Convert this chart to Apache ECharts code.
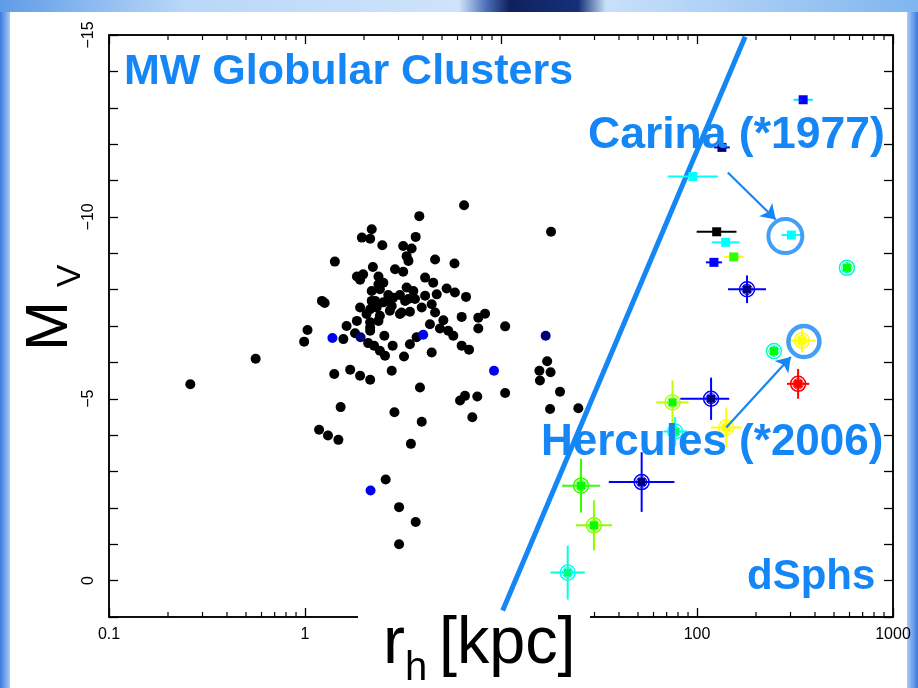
<!DOCTYPE html>
<html>
<head>
<meta charset="utf-8">
<script src="https://cdn.jsdelivr.net/npm/echarts@6/dist/echarts.min.js"></script>
<style>
  html, body { margin: 0; padding: 0; background: #ffffff; }
  #chart { width: 918px; height: 688px; }
</style>
</head>
<body>
<div id="chart"></div>
<script>
// Milky Way globular clusters: half-light radius r_h and absolute magnitude M_V
const gcBlackR = [0.26,0.56,0.99,1.03,1.18,1.31,1.48,1.22,1.26,1.42,1.57,1.41,1.52,1.63,1.80,1.84,1.70,1.91,2.15,2.15,
  2.10,2.25,2.41,2.56,2.54,2.80,2.77,3.20,3.43,3.71,4.43,3.86,2.86,3.94,3.47,2.58,3.02,3.67,3.02,3.83,
  2.19,1.95,2.15,2.48,3.67,3.17,3.50,3.30,3.37,4.61,5.79,2.22,2.88,3.17,1.84,1.98,1.91,2.37,2.51,4.10,
  4.51,5.28,5.82,6.63,2.19,2.41,2.66,3.30,3.57,3.05,4.10,4.70,2.19,2.51,2.77,1.91,2.32,3.37,4.43,2.06,
  2.41,3.05,3.43,3.94,4.61,2.15,2.37,4.34,5.08,4.88,5.38,6.30,7.66,8.29,7.66,10.5,5.71,6.30,6.87,17.2,
  15.7,17.9,15.8,20.0,10.5,6.55,6.18,7.57,7.14,17.8,24.8,6.48,18.0,2.82,3.24,3.64,3.11,2.37,2.28,2.66,
  2.15,2.71,2.15];
const gcBlackMv = [-5.40,-6.10,-6.57,-6.89,-4.15,-3.99,-3.87,-7.69,-7.63,-8.77,-6.64,-5.68,-4.77,-7.00,-6.80,-7.14,-5.80,-5.63,-5.52,-6.87,
  -6.53,-6.46,-6.32,-6.18,-6.73,-6.46,-5.77,-6.16,-6.50,-6.69,-6.27,-5.31,-4.63,-4.37,-3.76,-2.78,-2.02,-1.61,-1.00,-10.02,
  -9.66,-9.43,-9.40,-9.22,-9.45,-9.20,-9.13,-8.92,-8.79,-8.83,-8.72,-8.62,-8.56,-8.49,-8.36,-8.42,-8.27,-8.36,-8.19,-8.33,
  -8.19,-8.03,-7.92,-7.80,-7.96,-8.01,-7.85,-8.06,-7.96,-7.85,-7.83,-7.87,-7.69,-7.65,-7.55,-7.51,-7.51,-7.74,-7.60,-7.33,
  -7.28,-7.33,-7.39,-7.51,-7.37,-7.10,-7.14,-7.05,-7.16,-6.93,-6.87,-7.25,-7.23,-7.34,-6.93,-6.99,-6.73,-6.46,-6.35,-6.03,
  -5.77,-5.73,-5.50,-5.19,-5.16,-5.08,-4.95,-5.06,-4.49,-4.72,-4.74,-10.32,-9.59,-7.78,-7.69,-7.74,-7.37,-8.15,-7.69,-7.69,
  -7.46,-7.42,-6.96];
const gcBlueR = [1.38, 4.01, 2.16, 9.21];
const gcBlueMv = [-6.67, -6.76, -2.48, -5.77];
const gcNavyR = [1.92, 16.9];
const gcNavyMv = [-6.69, -6.73];

// Dwarf spheroidal satellites with error bars
const dsphR     = [348, 134, 95.3, 126, 140, 154, 122, 303, 582, 180, 247, 343, 328, 75, 118, 77.4, 141, 25.6, 52.2, 29.8, 21.9];
const dsphMv    = [-13.22, -11.91, -11.11, -9.59, -9.30, -8.90, -8.75, -9.50, -8.60, -8.01, -6.31, -6.60, -5.41, -4.90, -5.00, -4.10, -4.21, -2.61, -2.71, -1.52, -0.22];
const dsphRLo   = [311, 122, 70.9, 99.6, 119, 137, 111, 270, 560, 144, 236, 292, 288, 62, 82.2, 67.3, 118, 20.5, 35.5, 24.1, 17.9];
const dsphRHi   = [390, 147, 128, 159, 165, 173, 134, 340, 605, 225, 258, 403, 374, 90.6, 146, 89, 168, 32, 76.7, 36.8, 26.8];
const dsphMvErr = [0, 0, 0, 0, 0, 0, 0, 0, 0.15, 0.38, 0.15, 0.33, 0.41, 0.60, 0.58, 0.40, 0.55, 0.74, 0.82, 0.69, 0.74];

// Highlighted objects and their discovery labels
const carina = [303, -9.50];
const hercules = [343, -6.60];
const carinaArrow = [[143.6, -11.22], [252, -9.93]];
const herculesArrow = [[141, -4.21], [301, -6.15]];

// Dividing line between clusters and dwarfs
const divideLine = [[176, -14.95], [10.2, 0.82]];

// Axis ticks
const xMinorTicks = [0.2,0.3,0.4,0.5,0.6,0.7,0.8,0.9, 2,3,4,5,6,7,8,9, 20,30,40,50,60,70,80,90, 200,300,400,500,600,700,800,900];

// ---- styles ----
const BLUE = '#1486f5';
const FONT = "'Liberation Sans', Arial, Helvetica, sans-serif";
const dsphStyle = [
  { sq: '#0000ff', err: '#00e8ff', ring: null },
  { sq: '#000080', err: '#0000ff', ring: null },
  { sq: '#00ffff', err: '#00ffff', ring: null },
  { sq: '#000000', err: '#000000', ring: null },
  { sq: '#00ffff', err: '#00ffff', ring: null },
  { sq: '#33ff00', err: '#ffff00', ring: null },
  { sq: '#0000ff', err: '#0000ff', ring: null },
  { sq: '#00ffff', err: '#00ffff', ring: null },
  { sq: '#00ff00', err: '#00ffcc', ring: '#00ffcc' },
  { sq: '#000080', err: '#0000ff', ring: '#0000ff' },
  { sq: '#00ff00', err: '#00ffcc', ring: '#00ffcc' },
  { sq: '#ffff00', err: '#ffff00', ring: '#ffff00' },
  { sq: '#ff0000', err: '#ff0000', ring: '#ff0000' },
  { sq: '#00ff00', err: '#bbff00', ring: '#bbff00' },
  { sq: '#000080', err: '#0000ff', ring: '#0000ff' },
  { sq: '#00ff66', err: '#00ffff', ring: '#00ffff' },
  { sq: '#ffff00', err: '#ffff00', ring: '#ffff00' },
  { sq: '#00ff00', err: '#33ff00', ring: '#33ff00' },
  { sq: '#000080', err: '#0000ff', ring: '#0000ff' },
  { sq: '#00ff00', err: '#88ff00', ring: '#88ff00' },
  { sq: '#00ff80', err: '#00ffdd', ring: '#00ffff' }
];

const zip = (a, b) => a.map((v, i) => [v, b[i]]);

const chart = echarts.init(document.getElementById('chart'), null, { renderer: 'canvas' });

const dotSeries = (data, color) => ({
  type: 'scatter', data, symbol: 'circle', symbolSize: 10, silent: true,
  itemStyle: { color, opacity: 1 }, z: 3
});

const frameAxisLine = { show: true, onZero: false, lineStyle: { color: '#000', width: 1.5 } };
const majorTick = { show: true, inside: true, length: 9, lineStyle: { color: '#000', width: 1.3 } };

const option = {
  animation: false,
  backgroundColor: '#ffffff',
  grid: { left: 109, right: 25, top: 35, bottom: 71, show: true, borderColor: '#000', borderWidth: 1.5, backgroundColor: 'transparent' },
  xAxis: [{
    type: 'log', logBase: 10, min: 0.1, max: 1000, position: 'bottom',
    axisLine: frameAxisLine, axisTick: majorTick, splitLine: { show: false },
    axisLabel: {
      margin: 10, color: '#000', fontFamily: FONT, fontSize: 16,
      formatter: v => v < 0.5 ? '0.1' : String(Math.round(v))
    }
  }, {
    type: 'log', logBase: 10, min: 0.1, max: 1000, position: 'top',
    axisLine: frameAxisLine, axisTick: majorTick, splitLine: { show: false }, axisLabel: { show: false }
  }],
  yAxis: [{
    type: 'value', min: -15, max: 1, interval: 1, inverse: true, position: 'left',
    axisLine: frameAxisLine, axisTick: majorTick, splitLine: { show: false },
    axisLabel: {
      rotate: 90, margin: 12, color: '#000', fontFamily: FONT, fontSize: 16,
      formatter: v => (v % 5 === 0 && v <= 0) ? (v === 0 ? '0' : '\u2212' + Math.abs(v)) : ''
    }
  }, {
    type: 'value', min: -15, max: 1, interval: 1, inverse: true, position: 'right',
    axisLine: frameAxisLine, axisTick: majorTick, splitLine: { show: false }, axisLabel: { show: false }
  }],
  series: [
    // minor log ticks on bottom and top edges
    {
      type: 'custom', silent: true, z: 0, clip: false,
      data: xMinorTicks.map(v => [v, -15]),
      encode: { x: 0, y: 1 },
      renderItem: (params, api) => {
        const top = api.coord([api.value(0), -15]);
        const bot = api.coord([api.value(0), 1]);
        const ls = { stroke: '#000', lineWidth: 1.2 };
        return { type: 'group', children: [
          { type: 'line', shape: { x1: bot[0], y1: bot[1], x2: bot[0], y2: bot[1] - 5 }, style: ls },
          { type: 'line', shape: { x1: top[0], y1: top[1], x2: top[0], y2: top[1] + 5 }, style: ls }
        ] };
      }
    },
    dotSeries(zip(gcBlackR, gcBlackMv), '#000000'),
    dotSeries(zip(gcBlueR, gcBlueMv), '#0000ee'),
    dotSeries(zip(gcNavyR, gcNavyMv), '#00007a'),
    // dwarf spheroidals with error bars
    {
      type: 'custom', silent: true, z: 4, clip: false,
      data: dsphR.map((r, i) => [r, dsphMv[i], dsphRLo[i], dsphRHi[i], dsphMvErr[i], i]),
      encode: { x: 0, y: 1 },
      renderItem: (params, api) => {
        const i = api.value(5);
        const st = dsphStyle[i];
        const r = api.value(0), m = api.value(1), e = api.value(4);
        const c = api.coord([r, m]);
        const lo = api.coord([api.value(2), m]);
        const hi = api.coord([api.value(3), m]);
        const kids = [
          { type: 'line', shape: { x1: lo[0], y1: c[1], x2: hi[0], y2: c[1] }, style: { stroke: st.err, lineWidth: 2 } }
        ];
        if (e > 0) {
          const t = api.coord([r, m - e]), b = api.coord([r, m + e]);
          kids.push({ type: 'line', shape: { x1: c[0], y1: t[1], x2: c[0], y2: b[1] }, style: { stroke: st.err, lineWidth: 2 } });
        }
        let s = 9;
        if (st.ring) {
          s = 8;
          kids.push({ type: 'circle', shape: { cx: c[0], cy: c[1], r: 7.5 }, style: { fill: 'none', stroke: st.ring, lineWidth: 1.5 } });
          kids.push({ type: 'circle', shape: { cx: c[0], cy: c[1], r: 5.2 }, style: { fill: 'none', stroke: st.ring, lineWidth: 1 } });
        }
        kids.push({ type: 'rect', shape: { x: c[0] - s / 2, y: c[1] - s / 2, width: s, height: s }, style: { fill: st.sq } });
        return { type: 'group', children: kids };
      }
    },
    // dividing line
    {
      type: 'line', data: divideLine, symbol: 'none', silent: true, z: 2, clip: false,
      lineStyle: { color: BLUE, width: 5 }
    },
    // highlight rings
    {
      type: 'scatter', data: [carina], symbol: 'circle', symbolSize: 34, symbolOffset: [-6, 1], silent: true, z: 6,
      itemStyle: { color: 'rgba(0,0,0,0)', borderColor: BLUE, borderWidth: 4 }
    },
    {
      type: 'scatter', data: [hercules], symbol: 'circle', symbolSize: 31, symbolOffset: [2, 1], silent: true, z: 6,
      itemStyle: { color: 'rgba(0,0,0,0)', borderColor: BLUE, borderWidth: 4.5 }
    },
    // arrows
    {
      type: 'lines', coordinateSystem: 'cartesian2d', silent: true, z: 6,
      symbol: ['none', 'arrow'], symbolSize: 14,
      lineStyle: { color: BLUE, width: 2.2, opacity: 1 },
      data: [{ coords: carinaArrow }, { coords: herculesArrow }]
    }
  ],
  graphic: [
    // slide frame
    { type: 'rect', z: -10, silent: true, shape: { x: 0, y: 0, width: 10, height: 688 },
      style: { fill: new echarts.graphic.LinearGradient(0, 0, 1, 0, [
        { offset: 0, color: '#3b78e0' }, { offset: 1, color: '#a9ccf6' }]) } },
    { type: 'rect', z: -10, silent: true, shape: { x: 907, y: 0, width: 11, height: 688 },
      style: { fill: new echarts.graphic.LinearGradient(0, 0, 1, 0, [
        { offset: 0, color: '#a9ccf6' }, { offset: 1, color: '#3b78e0' }]) } },
    { type: 'rect', z: -10, silent: true, shape: { x: 0, y: 0, width: 918, height: 12 },
      style: { fill: new echarts.graphic.LinearGradient(0, 0, 1, 0, [
        { offset: 0, color: '#5f9ce8' }, { offset: 0.2, color: '#b9d7f8' }, { offset: 0.5, color: '#cfe3fa' },
        { offset: 0.53, color: '#4a6fb8' }, { offset: 0.555, color: '#10205e' }, { offset: 0.63, color: '#15307a' },
        { offset: 0.66, color: '#c8e0fa' }, { offset: 1, color: '#7fb5ef' }]) } },
    // white panel behind the x-axis title
    { type: 'rect', z: 1, silent: true, shape: { x: 358, y: 603, width: 232, height: 85 }, style: { fill: '#ffffff' } },
    { type: 'text', z: 3, silent: true, x: 383, y: 645, style: { text: 'r', fontFamily: FONT, fontSize: 66, fill: '#000', verticalAlign: 'middle' } },
    { type: 'text', z: 3, silent: true, x: 405, y: 669, style: { text: 'h', fontFamily: FONT, fontSize: 40, fill: '#000', verticalAlign: 'middle' } },
    { type: 'text', z: 3, silent: true, x: 439, y: 645, scaleX: 0.98, style: { text: '[kpc]', fontFamily: FONT, fontSize: 66, fill: '#000', verticalAlign: 'middle' } },
    // y-axis title M_V
    { type: 'group', x: 50, y: 326, rotation: Math.PI / 2, silent: true, children: [
      { type: 'text', x: 0, y: 0, style: { text: 'M', fontFamily: FONT, fontSize: 60, fill: '#000', align: 'center', verticalAlign: 'middle' } },
      { type: 'text', x: 50, y: 21, style: { text: 'V', fontFamily: FONT, fontSize: 34, fill: '#000', align: 'center', verticalAlign: 'middle' } }
    ] },
    // panel labels
    { type: 'text', z: 7, silent: true, x: 124, y: 72, style: { text: 'MW Globular Clusters', fontFamily: FONT, fontWeight: 'bold', fontSize: 43, fill: BLUE, verticalAlign: 'middle' } },
    { type: 'text', z: 7, silent: true, x: 588, y: 136, style: { text: 'Carina (*1977)', fontFamily: FONT, fontWeight: 'bold', fontSize: 44.5, fill: BLUE, verticalAlign: 'middle' } },
    { type: 'text', z: 7, silent: true, x: 541, y: 443, style: { text: 'Hercules (*2006)', fontFamily: FONT, fontWeight: 'bold', fontSize: 44, fill: BLUE, verticalAlign: 'middle' } },
    { type: 'text', z: 7, silent: true, x: 747, y: 577, style: { text: 'dSphs', fontFamily: FONT, fontWeight: 'bold', fontSize: 42, fill: BLUE, verticalAlign: 'middle' } }
  ]
};

chart.setOption(option);
</script>
</body>
</html>
